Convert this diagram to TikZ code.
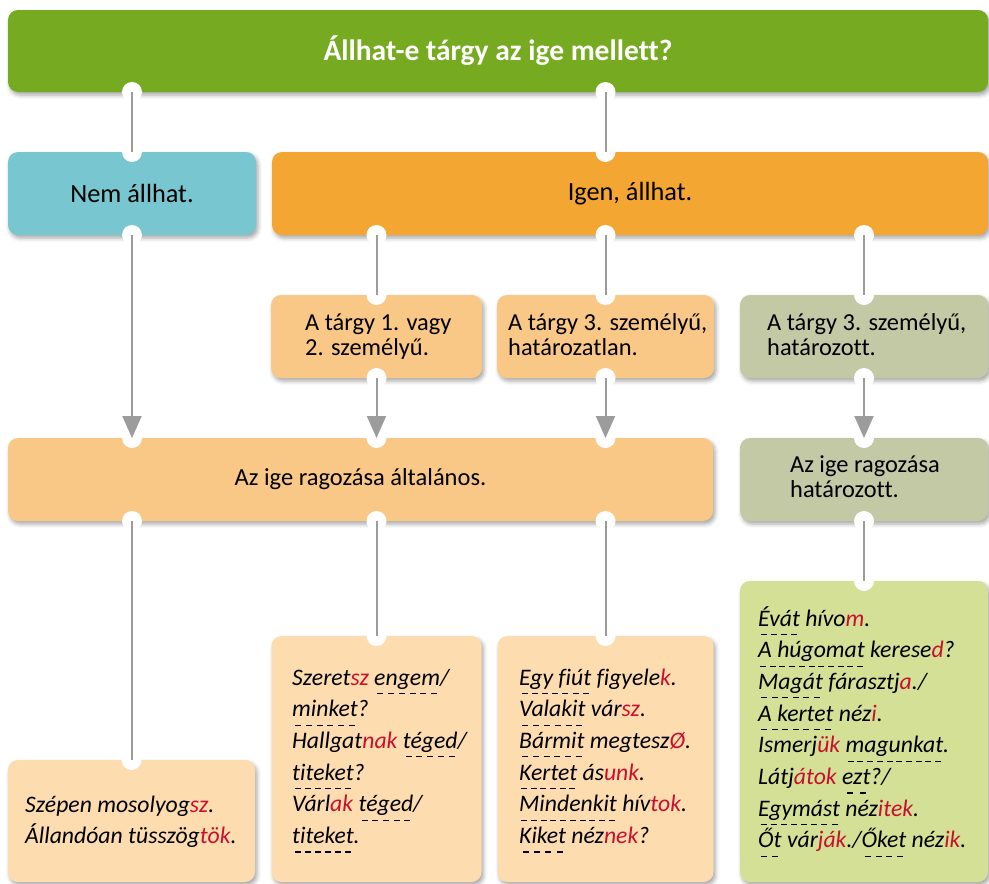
\documentclass[tikz,border=0pt]{standalone}
\usepackage{fontspec}
\setmainfont{Carlito}[Ligatures=NoCommon]
\usetikzlibrary{arrows.meta,shadows.blur}
\definecolor{cTop}{HTML}{76AA20}
\definecolor{cNem}{HTML}{78C6D0}
\definecolor{cIgen}{HTML}{F4A632}
\definecolor{cLor}{HTML}{F9C886}
\definecolor{cGg}{HTML}{C3C8A5}
\definecolor{cPeach}{HTML}{FDDCB0}
\definecolor{cLgreen}{HTML}{D3E096}
\definecolor{cRed}{HTML}{C8102E}
\definecolor{cLine}{HTML}{9C9C9C}
\newsavebox\dulbox
\newcommand\dul[1]{\sbox\dulbox{#1}\rlap{\smash{\raisebox{-9pt}{\hbox to \wd\dulbox{\color{black}\xleaders\hbox to 9.5pt{\hss\rule{6pt}{1.1pt}\hss}\hfill}}}}\usebox\dulbox}
\newcommand\rd[1]{\textcolor{cRed}{#1}}
\tikzset{
  box/.style={rectangle, rounded corners=10pt, fill=#1, inner sep=0pt, outer sep=0pt,
    blur shadow={shadow xshift=2pt, shadow yshift=-3pt, shadow blur radius=4pt, shadow opacity=35}},
  notch/.style={fill=white},
  conn/.style={draw=cLine, line width=2pt},
  arr/.style={conn, -{Triangle[width=19pt,length=22pt]}, shorten >=0pt},
  midtxt/.style={font=\fontsize{26.3}{30}\selectfont},
  rowtxt/.style={anchor=base west, inner sep=0pt, font=\fontsize{24.4}{25}\selectfont},
  bottxt/.style={anchor=base west, inner sep=0pt, font=\fontsize{23.7}{31.7}\selectfont\itshape},
}
\begin{document}
\begin{tikzpicture}[x=1pt, y=-1pt]
\useasboundingbox (0,0) rectangle (989,884);
% boxes
\node[box=cTop, minimum width=980pt, minimum height=82pt, text=white, font=\fontsize{29.5}{34}\selectfont\bfseries] (top) at (498,51) {Állhat-e tárgy az ige mellett?};
\node[box=cNem, minimum width=248pt, minimum height=83pt, midtxt] (nem) at (132,193.5) {Nem állhat.};
\node[box=cIgen, minimum width=716pt, minimum height=83pt, midtxt] (igen) at (630,193.5) {Igen, állhat.};
\node[box=cLor, minimum width=211pt, minimum height=83pt] (a3) at (376.5,336.5) {};
\node[box=cLor, minimum width=217pt, minimum height=83pt] (b3) at (605.5,336.5) {};
\node[box=cGg, minimum width=248pt, minimum height=83pt] (c3) at (864,336.5) {};
\node[box=cLor, minimum width=705pt, minimum height=83pt, font=\fontsize{24.5}{28}\selectfont] (alt) at (360.5,479.5) {Az ige ragozása általános.};
\node[box=cGg, minimum width=248pt, minimum height=83pt] (c4) at (864,479.5) {};
\node[box=cPeach, minimum width=247pt, minimum height=122pt] (b1) at (131.5,821) {};
\node[box=cPeach, minimum width=210pt, minimum height=246pt] (b2) at (376.5,759) {};
\node[box=cPeach, minimum width=216pt, minimum height=246pt] (b3b) at (605.5,759) {};
\node[box=cLgreen, minimum width=248pt, minimum height=301pt] (b4) at (864,731.5) {};
% notches
\foreach \p in {(top.south -| nem.north), (top.south -| b3.north), (nem.north), (nem.south), (igen.north -| b3.north),
  (igen.south -| a3.north), (igen.south -| b3.north), (igen.south -| c3.north),
  (a3.north), (a3.south), (b3.north), (b3.south), (c3.north), (c3.south),
  (alt.north -| nem.south), (alt.north -| a3.south), (alt.north -| b3.south),
  (alt.south -| nem.south), (alt.south -| a3.south), (alt.south -| b3.south),
  (c4.north), (c4.south), (b1.north), (b2.north), (b3b.north), (b4.north)}
  \fill[notch] \p circle (10);
% texts
\node[rowtxt] (ta3) at (305,330) {\begin{tabular}[t]{@{}l@{}}A tárgy 1. vagy\\2. személyű.\end{tabular}};
\node[rowtxt] (tb3) at (508,330) {\begin{tabular}[t]{@{}l@{}}A tárgy 3. személyű,\\határozatlan.\end{tabular}};
\node[rowtxt] (tc3) at (767,330) {\begin{tabular}[t]{@{}l@{}}A tárgy 3. személyű,\\határozott.\end{tabular}};
\node[rowtxt] (tc4) at (790,472) {\begin{tabular}[t]{@{}l@{}}Az ige ragozása\\határozott.\end{tabular}};
\node[bottxt] (tb1) at (25,812) {\begin{tabular}[t]{@{}l@{}}Szépen mosolyog\rd{sz}.\\Állandóan tüsszög\rd{tök}.\end{tabular}};
\node[bottxt] (tb2) at (292,685) {\begin{tabular}[t]{@{}l@{}}Szeret\rd{sz} \dul{engem}/\\\dul{minket}?\\Hallgat\rd{nak} \dul{téged}/\\\dul{titeket}?\\Várl\rd{ak} \dul{téged}/\\\dul{titeket}.\end{tabular}};
\node[bottxt] (tb3) at (519,685) {\begin{tabular}[t]{@{}l@{}}\dul{Egy fiút} figyele\rd{k}.\\\dul{Valakit} vár\rd{sz}.\\\dul{Bármit} megtesz\rd{Ø}.\\\dul{Kertet} ás\rd{unk}.\\\dul{Mindenkit} hív\rd{tok}.\\\dul{Kiket} néz\rd{nek}?\end{tabular}};
\node[bottxt] (tb4) at (758,626) {\begin{tabular}[t]{@{}l@{}}\dul{Évát} hívo\rd{m}.\\\dul{A húgomat} kerese\rd{d}?\\\dul{Magát} fárasztj\rd{a}./\\\dul{A kertet} néz\rd{i}.\\Ismerj\rd{ük} \dul{magunkat}.\\Látj\rd{átok} \dul{ezt}?/\\\dul{Egymást} néz\rd{itek}.\\\dul{Őt} vár\rd{ják}./\dul{Őket} néz\rd{ik}.\end{tabular}};
% connectors
\draw[conn] (top.south -| nem.north) -- (nem.north);
\draw[conn] (top.south -| b3.north) -- (igen.north -| b3.north);
\draw[conn] (igen.south -| a3.north) -- (a3.north);
\draw[conn] (igen.south -| b3.north) -- (b3.north);
\draw[conn] (igen.south -| c3.north) -- (c3.north);
\draw[arr] (nem.south) -- (alt.north -| nem.south);
\draw[arr] (a3.south) -- (alt.north -| a3.south);
\draw[arr] (b3.south) -- (alt.north -| b3.south);
\draw[arr] (c3.south) -- (c4.north);
\draw[conn] (alt.south -| b1.north) -- (b1.north);
\draw[conn] (alt.south -| b2.north) -- (b2.north);
\draw[conn] (alt.south -| b3b.north) -- (b3b.north);
\draw[conn] (c4.south) -- (b4.north);
\end{tikzpicture}
\end{document}
